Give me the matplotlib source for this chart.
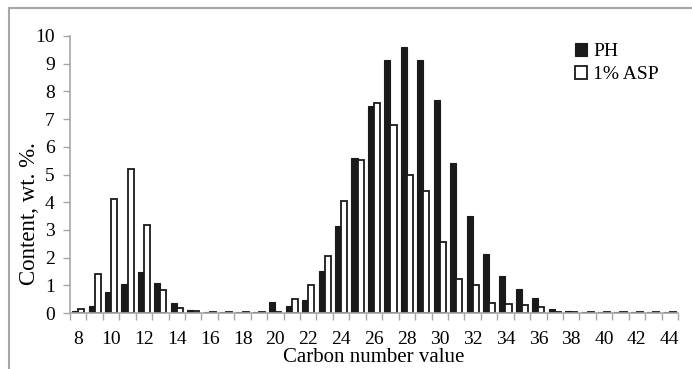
import numpy as np
import matplotlib.pyplot as plt
from matplotlib.lines import Line2D

plt.rcParams["font.family"] = ["Liberation Serif", "DejaVu Serif"]

# carbon numbers C8..C44
carbon = list(range(8, 45))
ph = [0.08, 0.25, 0.77, 1.05, 1.49, 1.07, 0.35, 0.11, 0.03, 0.02,
      0.02, 0.05, 0.38, 0.24, 0.48, 1.50, 3.13, 5.59, 7.48, 9.14,
      9.62, 9.12, 7.69, 5.41, 3.50, 2.13, 1.34, 0.86, 0.53, 0.13,
      0.08, 0.04, 0.03, 0.03, 0.02, 0.02, 0.03]
asp = [0.15, 1.40, 4.10, 5.20, 3.18, 0.83, 0.18, 0.08, 0.02, 0.02,
       0.02, 0.02, 0.05, 0.52, 1.02, 2.04, 4.05, 5.54, 7.58, 6.77,
       5.00, 4.42, 2.58, 1.23, 1.01, 0.35, 0.31, 0.30, 0.20, 0.03,
       0.02, 0.03, 0.03, 0.02, 0.02, 0.02, 0.03]

axis_grey = "#a6a6a6"

fig = plt.figure(figsize=(6.92, 3.69), dpi=100)
ax = fig.add_axes([70 / 692, 1 - 313 / 369, 608 / 692, 277 / 369])

x = np.arange(len(carbon))
width = 0.37
ax.bar(x - width / 2, ph, width, color="#1a1a1a", edgecolor="#1a1a1a",
       linewidth=0.8, label="PH")
ax.bar(x + width / 2, asp, width, color="white", edgecolor="#1a1a1a",
       linewidth=1.3, label="1% ASP")

ax.set_xlim(-0.5, len(carbon) - 0.5)
ax.set_ylim(0, 10)
ax.set_yticks(range(0, 11))

# category axis: ticks between categories, labels on every second category
ax.set_xticks(np.arange(-0.5, len(carbon), 1.0))
ax.set_xticklabels([])
ax.set_xticks(x[::2], minor=True)
ax.set_xticklabels([str(c) for c in carbon[::2]], minor=True)
ax.tick_params(axis="x", which="minor", length=0, pad=13, labelsize=14)
ax.tick_params(axis="x", which="major", length=5, color=axis_grey, width=1)
ax.tick_params(axis="y", length=5, color=axis_grey, width=1, labelsize=14, pad=6)

for side in ["top", "right"]:
    ax.spines[side].set_visible(False)
for side in ["left", "bottom"]:
    ax.spines[side].set_color(axis_grey)
    ax.spines[side].set_linewidth(1.2)

ax.set_xlabel("Carbon number value", fontsize=15, labelpad=0)
ax.set_ylabel("Content, wt. %.", fontsize=16.5, labelpad=3)
ax.yaxis.set_label_coords(-0.05, 0.36)

ax.legend(loc="upper left", bbox_to_anchor=(565 / 692, 1 - 33 / 369),
          bbox_transform=fig.transFigure, frameon=False, fontsize=14,
          handlelength=0.65, handleheight=0.65, handletextpad=0.3,
          labelspacing=0.3, borderpad=0)

# outer chart border (only left and top edges fall inside the picture)
fig.add_artist(Line2D([9 / 692, 9 / 692], [0, 1 - 8 / 369],
                      color=axis_grey, linewidth=1.5, transform=fig.transFigure))
fig.add_artist(Line2D([9 / 692, 1], [1 - 8 / 369, 1 - 8 / 369],
                      color=axis_grey, linewidth=1.5, transform=fig.transFigure))

fig.savefig("out.png", dpi=100)
